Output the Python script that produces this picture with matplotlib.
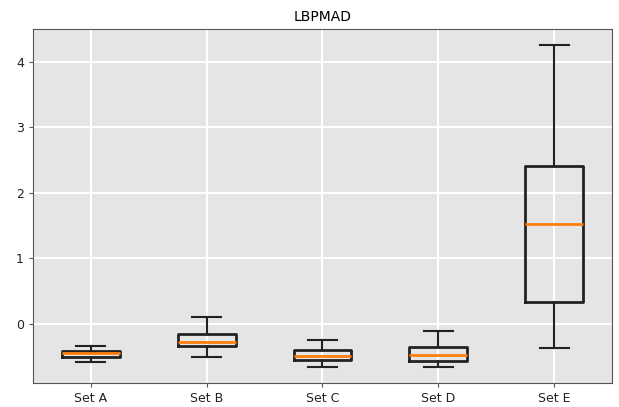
import matplotlib
matplotlib.use('Agg')
import matplotlib.pyplot as plt

labels = ['Set A', 'Set B', 'Set C', 'Set D', 'Set E']
whislo = [-0.585, -0.50, -0.65, -0.65, -0.37]
q1     = [-0.50, -0.34, -0.545, -0.565, 0.34]
med    = [-0.44, -0.27, -0.49, -0.47, 1.53]
q3     = [-0.41, -0.15, -0.40, -0.35, 2.41]
whishi = [-0.34, 0.10, -0.24, -0.11, 4.26]

stats = []
for i in range(len(labels)):
    stats.append({'label': labels[i], 'whislo': whislo[i], 'q1': q1[i],
                  'med': med[i], 'q3': q3[i], 'whishi': whishi[i], 'fliers': []})

fig = plt.figure(figsize=(6.19, 4.07), dpi=100)
ax = fig.add_axes([0.053, 0.059, 0.936, 0.870])
ax.set_facecolor('#e5e5e5')
ax.grid(True, color='white', linewidth=1.5)
ax.set_axisbelow(True)

ax.bxp(stats, showfliers=False,
       boxprops=dict(color='#222222', linewidth=2),
       whiskerprops=dict(color='#222222', linewidth=1.5),
       capprops=dict(color='#222222', linewidth=1.5),
       medianprops=dict(color='#ff7f0e', linewidth=2))

ax.set_ylim(-0.9, 4.5)
ax.set_xlim(0.5, 5.5)
ax.set_yticks([0, 1, 2, 3, 4])
ax.set_title('LBPMAD', fontsize=10)
for s in ax.spines.values():
    s.set_color('#555555')
ax.tick_params(colors='#555555', labelcolor='#222222', labelsize=9, length=3)

plt.savefig('out.png')
